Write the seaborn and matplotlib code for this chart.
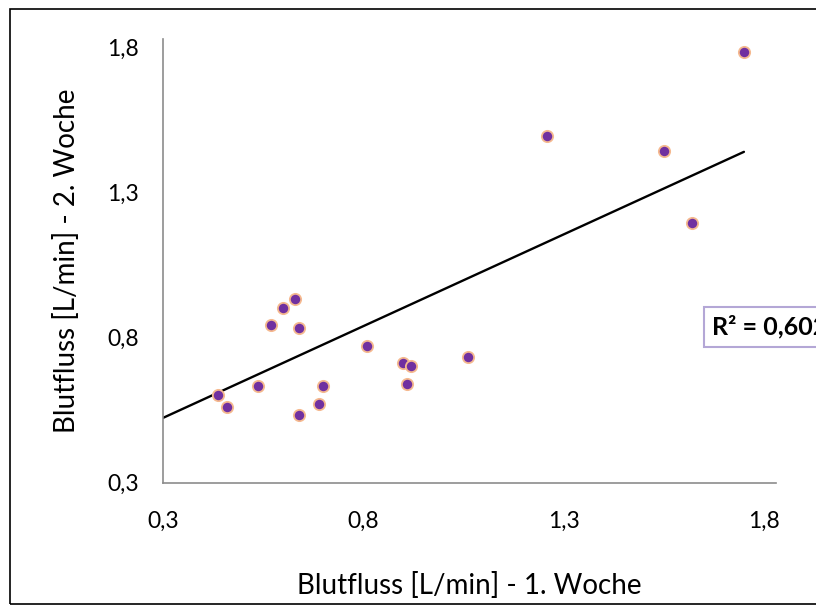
import numpy as np
import pandas as pd
import matplotlib
matplotlib.use("Agg")
import matplotlib.pyplot as plt
from matplotlib.patches import Rectangle
import seaborn as sns

# Data
woche1 = [0.439, 0.460, 0.538, 0.640, 0.690, 0.699, 0.570, 0.599, 0.629, 0.640,
          0.809, 0.899, 0.920, 0.909, 1.060, 1.259, 1.549, 1.620, 1.749]
woche2 = [0.602, 0.562, 0.632, 0.532, 0.571, 0.632, 0.844, 0.902, 0.933, 0.832,
          0.772, 0.714, 0.701, 0.641, 0.732, 1.496, 1.445, 1.194, 1.786]
# Trend line as shown in the reference (start / end values)
trend_x = [0.3, 1.749]
trend_y = [0.523, 1.441]
tick_values = [0.3, 0.8, 1.3, 1.8]
tick_labels = ["0,3", "0,8", "1,3", "1,8"]
x_label = "Blutfluss [L/min] - 1. Woche"
y_label = "Blutfluss [L/min] - 2. Woche"
r2_text = "R² = 0,602"

df = pd.DataFrame({"w1": woche1, "w2": woche2})
trend = pd.DataFrame({"x": trend_x, "y": trend_y})

sns.set_theme(style="white")
plt.rcParams["font.family"] = ["Lato", "DejaVu Sans"]

fig = plt.figure(figsize=(8.16, 6.10), dpi=100)
ax = fig.add_axes([0.1994, 0.2087, 0.7516, 0.7273])

sns.lineplot(data=trend, x="x", y="y", ax=ax, color="black", lw=1.7, zorder=2)

sns.scatterplot(data=df, x="w1", y="w2", ax=ax, s=66, color="#7030A0",
                edgecolor="#F5B98F", linewidth=1.3, zorder=3, legend=False)

ax.set_xlim(0.3, 1.829)
ax.set_ylim(0.3, 1.83)
ax.set_xticks(tick_values)
ax.set_xticklabels(tick_labels)
ax.set_yticks(tick_values)
ax.set_yticklabels(tick_labels)

for side in ["top", "right"]:
    ax.spines[side].set_visible(False)
for side in ["left", "bottom"]:
    ax.spines[side].set_color("#8C8C8C")
    ax.spines[side].set_linewidth(1.2)

ax.tick_params(axis="both", direction="out", length=5, width=1.2, color="#8C8C8C",
               labelsize=16.5, labelcolor="black")
ax.tick_params(axis="x", pad=15)
ax.tick_params(axis="y", pad=12)

ax.set_xlabel(x_label, fontsize=20, color="black", labelpad=29)
ax.set_ylabel(y_label, fontsize=20, color="black", labelpad=20)

# R² label box
fig.text(711.7 / 816, 1 - 327 / 610, r2_text, fontsize=18, fontweight="bold",
         ha="left", va="center", color="black",
         bbox=dict(boxstyle="square,pad=0.32", facecolor="white",
                   edgecolor="#B4A7D6", linewidth=1.5))

# Chart border
fig.patches.append(Rectangle((10 / 816, 1 - 604 / 610), 1.2, (604 - 9) / 610,
                             transform=fig.transFigure, fill=False,
                             edgecolor="black", linewidth=1.2))

fig.savefig("out.png", dpi=100)
